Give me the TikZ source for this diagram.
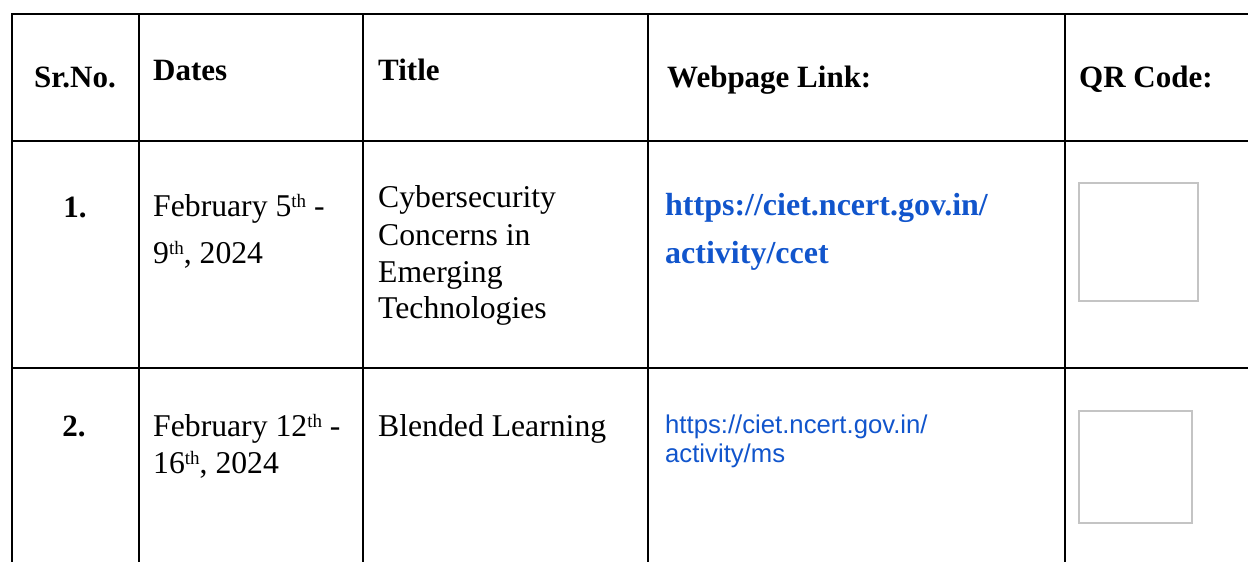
\documentclass[tikz,border=0pt]{standalone}
\usepackage{fontspec}
\setmainfont{Liberation Serif}
\newfontfamily\arialfont{Liberation Sans}
\definecolor{linkblue}{HTML}{1155CC}
\definecolor{qrgray}{HTML}{C4C4C4}
\newcommand{\supth}[1]{\raisebox{9pt}{\fontsize{19}{19}\selectfont #1}}
\begin{document}
\begin{tikzpicture}[x=1pt,y=-1pt,
  gridline/.style={line width=2.6pt, black},
  txt/.style={anchor=base west, inner sep=0pt, font=\fontsize{31.7}{37}\selectfont},
  hdr/.style={anchor=base west, inner sep=0pt, font=\fontsize{31}{37}\selectfont\bfseries},
  num/.style={anchor=base, inner sep=0pt, font=\fontsize{31}{37}\selectfont\bfseries},
  blink/.style={anchor=base west, inner sep=0pt, text=linkblue, font=\fontsize{32}{38}\selectfont\bfseries},
  slink/.style={anchor=base west, inner sep=0pt, text=linkblue, font=\arialfont\fontsize{25.7}{29}\selectfont},
  qrbox/.style={draw=qrgray, line width=1.6pt, fill=white}]
\useasboundingbox (0,0) rectangle (1248,562);
% grid
\draw[gridline] (12,562) -- (12,14) -- (1248,14);
\draw[gridline] (12,141) -- (1248,141);
\draw[gridline] (12,368) -- (1248,368);
\foreach \xx in {139,363,648,1065} \draw[gridline] (\xx,14) -- (\xx,562);
% header
\node[num] (hsr) at (75,87) {Sr.No.};
\node[hdr] (hdates) at (153,80) {Dates};
\node[hdr] (htitle) at (378,80) {Title};
\node[hdr] (hlink) at (667,87) {Webpage Link:};
\node[hdr] (hqr) at (1079,87) {QR Code:};
% row 1
\node[num] (n1) at (75,217) {1.};
\node[txt] (d1a) at (153,216) {February 5\supth{th} -};
\node[txt] (d1b) at (153,263) {9\supth{th}, 2024};
\node[txt] (t1a) at (378,207) {Cybersecurity};
\node[txt] (t1b) at (378,245) {Concerns in};
\node[txt] (t1c) at (378,282) {Emerging};
\node[txt] (t1d) at (378,318) {Technologies};
\node[blink] (l1a) at (665,215) {https://ciet.ncert.gov.in/};
\node[blink] (l1b) at (665,263) {activity/ccet};
\draw[qrbox] (1079,183) rectangle (1198,301);
% row 2
\node[num] (n2) at (74,436) {2.};
\node[txt] (d2a) at (153,436) {February 12\supth{th} -};
\node[txt] (d2b) at (153,473) {16\supth{th}, 2024};
\node[txt] (t2a) at (378,436) {Blended Learning};
\node[slink] (l2a) at (665,433) {https://ciet.ncert.gov.in/};
\node[slink] (l2b) at (665,462) {activity/ms};
\draw[qrbox] (1079,411) rectangle (1192,523);
\end{tikzpicture}
\end{document}
